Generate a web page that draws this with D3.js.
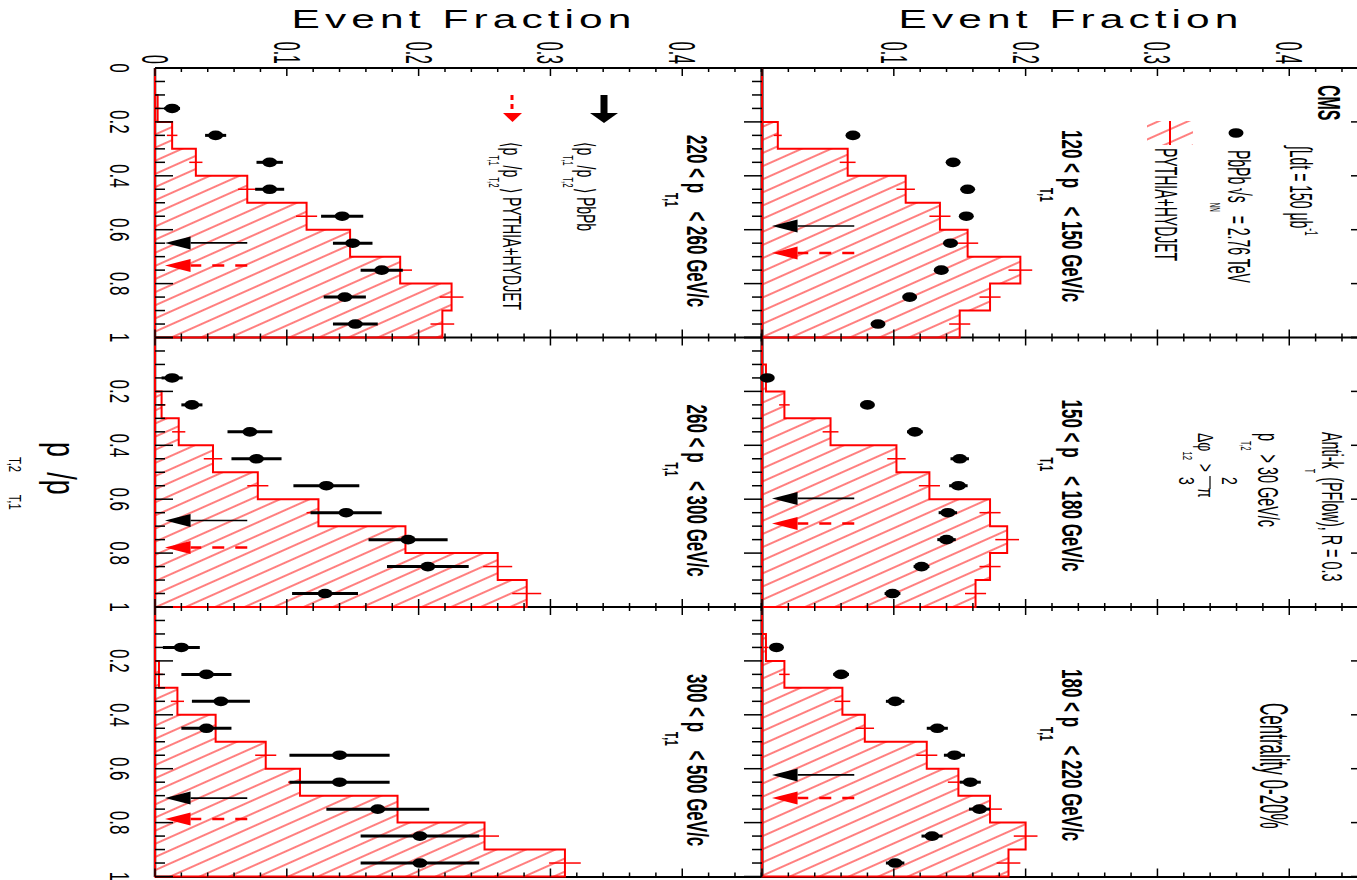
<!DOCTYPE html>
<html>
<head>
<meta charset="utf-8">
<script src="https://cdn.jsdelivr.net/npm/d3@7"></script>
<style>
  body { margin: 0; background: #fff; }
  svg { display: block; }
  text { font-family: "Liberation Sans", Arial, Helvetica, sans-serif; }
</style>
</head>
<body>
<script>
// ---- data ---------------------------------------------------------------
// leading-jet pT ranges (GeV/c), one panel each
const ptRanges = [[120, 150], [150, 180], [180, 220], [220, 260], [260, 300], [300, 500]];
// lower edges of the pT,2/pT,1 bins (bin width 0.1)
const binLow = [0.0, 0.1, 0.2, 0.3, 0.4, 0.5, 0.6, 0.7, 0.8, 0.9];
const binWidth = 0.1;

// PbPb event fractions (null = no entry) and statistical errors
const pbpb120 = [null, null, 0.069, 0.145, 0.156, 0.155, 0.143, 0.136, 0.112, 0.088];
const pbpbErr120 = [0, 0, 0.004, 0.005, 0.005, 0.005, 0.005, 0.005, 0.005, 0.004];
const pbpb150 = [null, 0.004, 0.080, 0.116, 0.150, 0.149, 0.141, 0.140, 0.121, 0.099];
const pbpbErr150 = [0, 0.003, 0.005, 0.006, 0.007, 0.007, 0.007, 0.007, 0.006, 0.006];
const pbpb180 = [null, 0.011, 0.060, 0.101, 0.133, 0.146, 0.158, 0.165, 0.129, 0.101];
const pbpbErr180 = [0, 0.004, 0.006, 0.007, 0.008, 0.008, 0.008, 0.008, 0.008, 0.007];
const pbpb220 = [null, 0.013, 0.046, 0.087, 0.087, 0.142, 0.150, 0.172, 0.144, 0.152];
const pbpbErr220 = [0, 0.006, 0.008, 0.010, 0.011, 0.016, 0.015, 0.016, 0.016, 0.017];
const pbpb260 = [null, 0.013, 0.028, 0.072, 0.077, 0.130, 0.145, 0.192, 0.207, 0.129];
const pbpbErr260 = [0, 0.008, 0.008, 0.017, 0.019, 0.025, 0.027, 0.030, 0.031, 0.025];
const pbpb300 = [null, 0.020, 0.039, 0.050, 0.039, 0.140, 0.140, 0.169, 0.201, 0.201];
const pbpbErr300 = [0, 0.014, 0.019, 0.022, 0.019, 0.038, 0.038, 0.039, 0.045, 0.045];

// PYTHIA+HYDJET event fractions and errors
const mc120 = [0, 0, 0.012, 0.065, 0.109, 0.135, 0.156, 0.196, 0.173, 0.150];
const mcErr120 = [0, 0, 0.003, 0.006, 0.007, 0.008, 0.008, 0.009, 0.008, 0.008];
const mc150 = [0, 0.003, 0.017, 0.052, 0.102, 0.127, 0.173, 0.186, 0.173, 0.162];
const mcErr150 = [0, 0.002, 0.004, 0.006, 0.007, 0.008, 0.008, 0.009, 0.008, 0.008];
const mc180 = [0, 0.003, 0.017, 0.061, 0.078, 0.125, 0.149, 0.173, 0.200, 0.187];
const mcErr180 = [0, 0.002, 0.004, 0.006, 0.007, 0.008, 0.008, 0.009, 0.009, 0.009];
const mc220 = [0, 0.002, 0.013, 0.031, 0.070, 0.115, 0.148, 0.186, 0.225, 0.218];
const mcErr220 = [0, 0.002, 0.004, 0.005, 0.007, 0.008, 0.008, 0.009, 0.009, 0.009];
const mc260 = [0, 0, 0.005, 0.018, 0.044, 0.078, 0.124, 0.190, 0.260, 0.282];
const mcErr260 = [0, 0, 0.003, 0.005, 0.007, 0.008, 0.009, 0.010, 0.011, 0.011];
const mc300 = [0, 0, 0.003, 0.017, 0.046, 0.084, 0.110, 0.184, 0.250, 0.311];
const mcErr300 = [0, 0, 0.003, 0.005, 0.007, 0.008, 0.009, 0.010, 0.011, 0.012];

// mean pT,2/pT,1 per panel
const meanPbPb = [0.586, 0.597, 0.623, 0.649, 0.679, 0.709];
const meanMC = [0.686, 0.690, 0.709, 0.733, 0.779, 0.787];

const pbpbSets = [pbpb120, pbpb150, pbpb180, pbpb220, pbpb260, pbpb300];
const pbpbErrSets = [pbpbErr120, pbpbErr150, pbpbErr180, pbpbErr220, pbpbErr260, pbpbErr300];
const mcSets = [mc120, mc150, mc180, mc220, mc260, mc300];
const mcErrSets = [mcErr120, mcErr150, mcErr180, mcErr220, mcErr260, mcErr300];

// ---- layout -------------------------------------------------------------
const W = 1357, H = 880;
const fracMax = 0.4605;
const RED = "#ff0000";

const svg = d3.select("body").append("svg").attr("width", W).attr("height", H);

const xHalf = {
  bottom: d3.scaleLinear().domain([0, fracMax]).range([155, 762]),
  top: d3.scaleLinear().domain([0, fracMax]).range([762, 1369])
};
const colTop = [68, 337.5, 607];
const colH = 269.5;
const yCol = colTop.map(t => d3.scaleLinear().domain([0, 1]).range([t, t + colH]));

// hatch fill for the simulation histogram
const defs = svg.append("defs");
const pat = defs.append("pattern")
  .attr("id", "hatch").attr("patternUnits", "userSpaceOnUse")
  .attr("width", 12).attr("height", 12)
  .attr("patternTransform", "rotate(-24)");
pat.append("line").attr("x1", 0).attr("x2", 12).attr("y1", 6).attr("y2", 6)
  .attr("stroke", "#ff0000").attr("stroke-width", 1);

// vertical (rotated) text with sub/superscripts
function vText(x, y, parts, o) {
  const t = svg.append("text")
    .attr("transform", `translate(${x},${y}) rotate(90) scale(1,${o.s})`)
    .attr("font-size", o.f)
    .attr("font-weight", o.w || "normal")
    .attr("text-anchor", o.a || "start")
    .attr("fill", o.c || "#000");
  const subOff = (o.subOff != null ? o.subOff : 0.55) * o.f;
  const supOff = -0.5 * o.f;
  const subSize = (o.subSize || 0.6) * o.f;
  let cur = 0;
  parts.forEach(p => {
    const [str, k] = Array.isArray(p) ? p : [p, "n"];
    const off = k === "sub" ? subOff : k === "sup" ? supOff : 0;
    t.append("tspan").attr("dy", off - cur)
      .attr("font-size", k === "n" ? o.f : subSize).text(str);
    cur = off;
  });
  return t;
}

// ---- frame lines --------------------------------------------------------
const frame = svg.append("g").attr("stroke", "#000");
frame.append("line").attr("x1", 155).attr("x2", 155).attr("y1", 68).attr("y2", 877).attr("stroke-width", 2.5);
frame.append("line").attr("x1", 762).attr("x2", 762).attr("y1", 68).attr("y2", 877).attr("stroke-width", 3);
[68, 337.5, 607, 877].forEach(y => {
  frame.append("line").attr("x1", 155).attr("x2", 1369).attr("y1", y).attr("y2", y).attr("stroke-width", 2);
});

// ---- panels -------------------------------------------------------------
const lineGen = d3.line();
ptRanges.forEach((rng, i) => {
  const half = i < 3 ? "top" : "bottom";
  const x = xHalf[half];
  const y = yCol[i % 3];
  const mc = mcSets[i], mcErr = mcErrSets[i];
  const pb = pbpbSets[i], pbErr = pbpbErrSets[i];
  const g = svg.append("g");

  // simulation histogram (hatched, red outline)
  const pts = [[x(0), y(0)]];
  binLow.forEach((lo, b) => {
    pts.push([x(mc[b]), y(lo)], [x(mc[b]), y(lo + binWidth)]);
  });
  pts.push([x(0), y(1)]);
  g.append("path").attr("d", lineGen(pts) + "Z").attr("fill", "url(#hatch)").attr("stroke", "none");
  g.append("path").attr("d", lineGen(pts) + "Z").attr("fill", "none")
    .attr("stroke", RED).attr("stroke-width", 2);
  binLow.forEach((lo, b) => {
    if (mc[b] <= 0) return;
    g.append("line")
      .attr("x1", x(mc[b] - mcErr[b])).attr("x2", x(mc[b] + mcErr[b]))
      .attr("y1", y(lo + binWidth / 2)).attr("y2", y(lo + binWidth / 2))
      .attr("stroke", RED).attr("stroke-width", 1.5);
  });

  // mean markers: PbPb (solid black) and simulation (dashed red)
  const arrowFrom = 0.07, headBase = 0.027, tip = 0.0076;
  const ym = y(meanPbPb[i]);
  g.append("line").attr("x1", x(arrowFrom)).attr("x2", x(headBase)).attr("y1", ym).attr("y2", ym)
    .attr("stroke", "#000").attr("stroke-width", 1.6);
  g.append("path").attr("d", `M${x(tip)},${ym}L${x(headBase)},${ym - 6.5}L${x(headBase)},${ym + 6.5}Z`).attr("fill", "#000");
  const yr = y(meanMC[i]);
  g.append("line").attr("x1", x(arrowFrom)).attr("x2", x(headBase)).attr("y1", yr).attr("y2", yr)
    .attr("stroke", RED).attr("stroke-width", 2.5).attr("stroke-dasharray", "12,11");
  g.append("path").attr("d", `M${x(tip)},${yr}L${x(headBase)},${yr - 6.5}L${x(headBase)},${yr + 6.5}Z`).attr("fill", RED);

  // PbPb data points with error bars
  binLow.forEach((lo, b) => {
    if (pb[b] == null) return;
    const yc = y(lo + binWidth / 2);
    g.append("line").attr("x1", x(pb[b] - pbErr[b])).attr("x2", x(pb[b] + pbErr[b]))
      .attr("y1", yc).attr("y2", yc).attr("stroke", "#000").attr("stroke-width", 3);
    g.append("ellipse").attr("cx", x(pb[b])).attr("cy", yc).attr("rx", 7.5).attr("ry", 4.8).attr("fill", "#000");
  });

  // panel label
  const bx = half === "bottom" ? 687 : 1062;
  vText(bx, colTop[i % 3] + (half === "bottom" ? 67 : 62),
    [`${rng[0]} < p`, ["T,1", "sub"], ` < ${rng[1]} GeV/c`],
    { f: 17, s: 1.75, w: "bold", subOff: 0.75, subSize: 0.6 });
});

// ---- ticks --------------------------------------------------------------
const ticks = svg.append("g").attr("stroke", "#000").attr("stroke-width", 1.5);
["bottom", "top"].forEach(half => {
  const x = xHalf[half];
  const minor = x.ticks(23), major = x.ticks(4);
  colTop.forEach((t, c) => {
    minor.forEach(v => {
      const len = major.some(m => Math.abs(m - v) < 1e-9) ? 8 : 4;
      ticks.append("line").attr("x1", x(v)).attr("x2", x(v)).attr("y1", t).attr("y2", t + len);
      ticks.append("line").attr("x1", x(v)).attr("x2", x(v)).attr("y1", t + colH).attr("y2", t + colH - len);
    });
  });
});
yCol.forEach(y => {
  const minor = y.ticks(20), major = y.ticks(5);
  minor.forEach(v => {
    const len = major.some(m => Math.abs(m - v) < 1e-9) ? 18 : 10;
    ticks.append("line").attr("x1", 155).attr("x2", 155 + len).attr("y1", y(v)).attr("y2", y(v));
    ticks.append("line").attr("x1", 762).attr("x2", 762 - len).attr("y1", y(v)).attr("y2", y(v));
    ticks.append("line").attr("x1", 1369).attr("x2", 1369 - len).attr("y1", y(v)).attr("y2", y(v));
  });
});

// ---- axis labels --------------------------------------------------------
const efFont = { f: 16, s: 2.3, a: "end" };
["bottom", "top"].forEach(half => {
  const x = xHalf[half];
  x.ticks(4).forEach(v => {
    if (half === "top" && v === 0) return;
    vText(x(v) - 13, 64, [v === 0 ? "0" : v.toFixed(1)], efFont);
  });
});
yCol.forEach((y, c) => {
  y.ticks(5).forEach(v => {
    if (v === 0 && c > 0) return;
    const lab = v === 0 ? "0" : v === 1 ? "1" : v.toFixed(1);
    vText(110, y(v), [lab], { f: 17, s: 1.6, a: "middle" });
  });
});

// axis titles
[xHalf.bottom, xHalf.top].forEach(x => {
  svg.append("text")
    .attr("transform", `translate(${x(0.2325)},28) scale(1.7,1)`)
    .attr("text-anchor", "middle").attr("font-size", 25)
    .attr("textLength", 200).attr("lengthAdjust", "spacing")
    .text("Event Fraction");
});
vText(47, 442, ["p", ["T,2", "sub"], "/p", ["T,1", "sub"]], { f: 27, s: 1.5, subOff: 0.95, subSize: 0.42 });

// ---- legends and annotations -------------------------------------------
vText(1318, 85, ["CMS"], { f: 16, s: 2.0, w: "bold" });
vText(1290, 146, ["∫", "Ldt = 150 μb", ["-1", "sup"]], { f: 14, s: 2.2 });
svg.append("ellipse").attr("cx", 1236).attr("cy", 133).attr("rx", 7.5).attr("ry", 4.8).attr("fill", "#000");
vText(1228, 150, ["PbPb √s", ["NN", "sub"], " = 2.76 TeV"], { f: 14, s: 2.2, subOff: 0.6, subSize: 0.45 });
svg.append("rect").attr("x", 1147).attr("y", 121).attr("width", 46).attr("height", 24).attr("fill", "url(#hatch)");
svg.append("line").attr("x1", 1170).attr("x2", 1170).attr("y1", 121).attr("y2", 145).attr("stroke", RED).attr("stroke-width", 2);
vText(1155, 148, ["PYTHIA+HYDJET"], { f: 14, s: 2.2 });

vText(1322, 432, ["Anti-k", ["T", "sub"], " (PFlow), R = 0.3"], { f: 14.4, s: 2.0, subOff: 0.6, subSize: 0.5 });
vText(1258, 433, ["p", ["T,2", "sub"], " > 30 GeV/c"], { f: 14.4, s: 2.0, subOff: 0.6, subSize: 0.5 });
vText(1198, 433, ["Δφ", ["12", "sub"], " >"], { f: 14, s: 1.6, subOff: 0.65, subSize: 0.55 });
vText(1222, 477, ["2"], { f: 14, s: 1.6 });
svg.append("line").attr("x1", 1210).attr("x2", 1210).attr("y1", 476).attr("y2", 489).attr("stroke", "#000").attr("stroke-width", 1.2);
vText(1179, 477, ["3"], { f: 14, s: 1.6 });
vText(1198, 488, ["π"], { f: 14, s: 1.6 });

vText(1260, 703, ["Centrality 0-20%"], { f: 17, s: 2.4 });

// mean-marker legend (first bottom panel)
svg.append("rect").attr("x", 600.5).attr("y", 95).attr("width", 7).attr("height", 18).attr("fill", "#000");
svg.append("path").attr("d", "M590,113L618,113L604,123Z").attr("fill", "#000");
svg.append("line").attr("x1", 512).attr("x2", 512).attr("y1", 95).attr("y2", 112)
  .attr("stroke", RED).attr("stroke-width", 3).attr("stroke-dasharray", "5,4");
svg.append("path").attr("d", "M503,113L522,113L512.5,122Z").attr("fill", RED);
vText(577, 142, ["⟨p", ["T,1", "sub"], "/p", ["T,2", "sub"], "⟩ PbPb"], { f: 14, s: 1.8, subOff: 0.55, subSize: 0.55 });
vText(503, 142, ["⟨p", ["T,1", "sub"], "/p", ["T,2", "sub"], "⟩ PYTHIA+HYDJET"], { f: 14, s: 1.8, subOff: 0.55, subSize: 0.55 });
</script>
</body>
</html>
